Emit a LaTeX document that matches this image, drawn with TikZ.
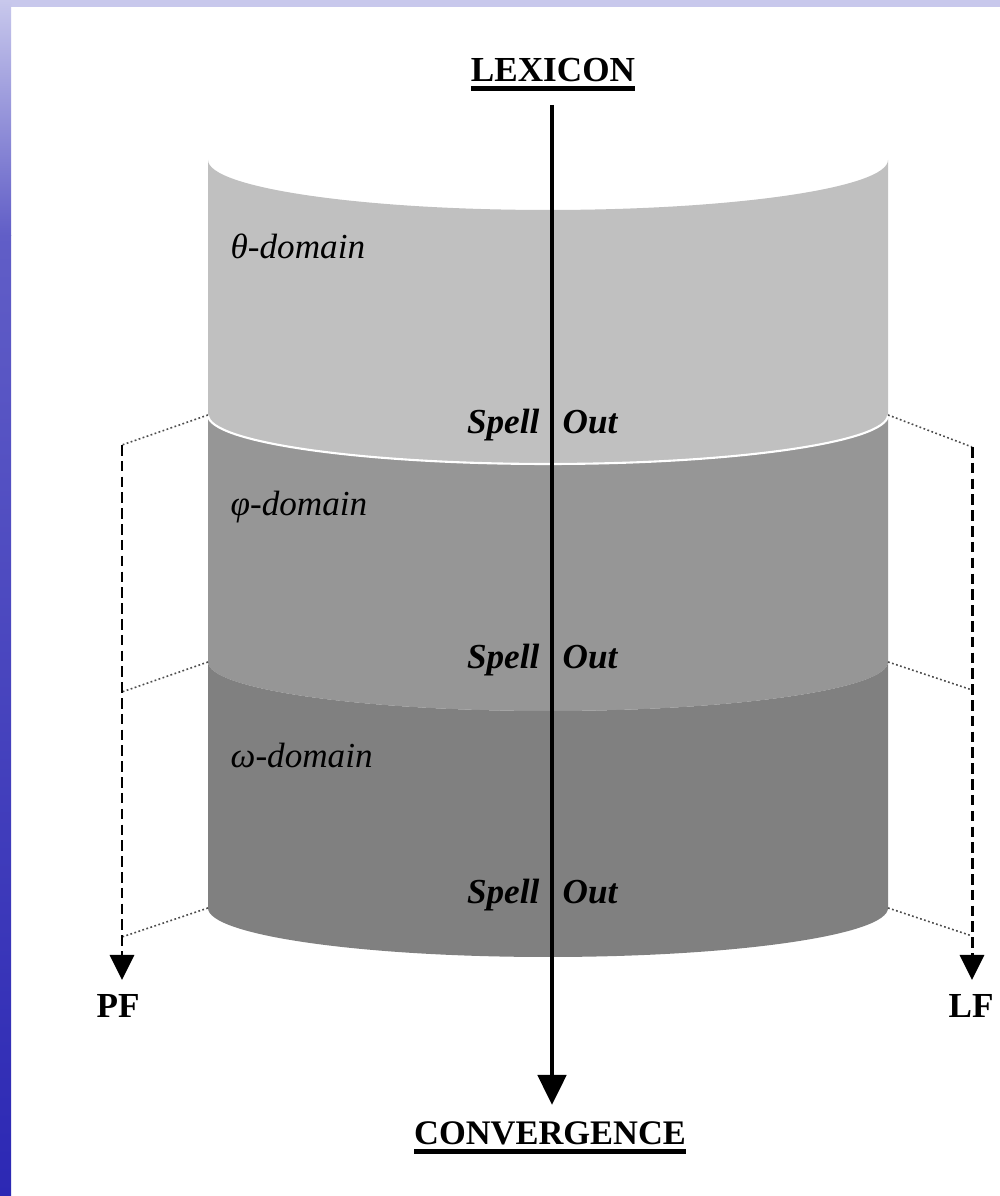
\documentclass[tikz,border=0pt]{standalone}
\usepackage{fontspec}
\setmainfont{Liberation Serif}
\usepackage{xcolor}
\usetikzlibrary{arrows.meta}
\definecolor{bandlight}{RGB}{192,192,192}
\definecolor{bandmid}{RGB}{150,150,150}
\definecolor{banddark}{RGB}{128,128,128}
\definecolor{slidelav}{RGB}{200,200,236}
\definecolor{slideblue}{RGB}{44,40,180}
\newcommand{\thickul}[1]{\vtop{\hbox{#1}\kern1.1pt\hrule height 1.4pt}}

\begin{document}
\begin{tikzpicture}[
  domlabel/.style={font=\fontsize{10}{12}\selectfont\itshape, anchor=base west, inner sep=0pt},
  spell/.style={font=\fontsize{10}{12}\selectfont\bfseries\itshape, inner sep=0pt},
  endlabel/.style={font=\fontsize{10}{12}\selectfont\bfseries, anchor=base, inner sep=0pt},
  tie/.style={gray!60!black, line width=0.45pt, dash pattern=on 0.5pt off 0.7pt},
  route/.style={line width=0.85pt, dash pattern=on 3pt off 1.5pt, -{Triangle[length=0.25cm,width=0.24cm]}}
]
  \useasboundingbox (0,0) rectangle (10,11.96);

  % slide background
  \fill[white] (0,0) rectangle (10,11.96);
  \fill[slidelav] (0,11.89) rectangle (10,11.96);
  \shade[top color=slidelav, bottom color=slideblue!75!white] (0,9.6) rectangle (0.11,11.96);
  \shade[top color=slideblue!75!white, bottom color=slideblue] (0,0) rectangle (0.11,9.6);

  % cylinder bands
  \fill[bandlight] (2.08,10.36) arc[start angle=180, end angle=360, x radius=3.4cm, y radius=0.5cm]
    -- (8.88,7.81) arc[start angle=0, end angle=-180, x radius=3.4cm, y radius=0.49cm] -- cycle;
  \fill[bandmid] (2.08,7.81) arc[start angle=180, end angle=360, x radius=3.4cm, y radius=0.49cm]
    -- (8.88,5.34) arc[start angle=0, end angle=-180, x radius=3.4cm, y radius=0.49cm] -- cycle;
  \fill[banddark] (2.08,5.34) arc[start angle=180, end angle=360, x radius=3.4cm, y radius=0.49cm]
    -- (8.88,2.88) arc[start angle=0, end angle=-180, x radius=3.4cm, y radius=0.49cm] -- cycle;
  \draw[white, line width=0.6pt] (2.08,7.81) arc[start angle=180, end angle=360, x radius=3.4cm, y radius=0.49cm];

  % band corners and feet of the side routes
  \coordinate (cl1) at (2.08,7.81);
  \coordinate (cl2) at (2.08,5.34);
  \coordinate (cl3) at (2.08,2.88);
  \coordinate (cr1) at (8.88,7.81);
  \coordinate (cr2) at (8.88,5.34);
  \coordinate (cr3) at (8.88,2.88);
  \coordinate (pl1) at (1.22,7.51);
  \coordinate (pl2) at (1.22,5.04);
  \coordinate (pl3) at (1.22,2.59);
  \coordinate (pr1) at (9.72,7.49);
  \coordinate (pr2) at (9.72,5.06);
  \coordinate (pr3) at (9.72,2.60);
  \coordinate (pfend) at (1.22,2.16);
  \coordinate (lfend) at (9.72,2.16);

  % dotted ties to the interfaces
  \foreach \i in {1,2,3} {
    \draw[tie] (cl\i) -- (pl\i);
    \draw[tie] (cr\i) -- (pr\i);
  }

  % PF and LF routes
  \node[endlabel] (pf) at (1.18,1.78) {PF};
  \node[endlabel] (lf) at (9.71,1.78) {LF};
  \draw[route] (pl1) -- (pfend);
  \draw[route] (pr1) -- (lfend);

  % domains
  \node[domlabel] (theta) at (2.30,9.37) {θ-domain};
  \node[domlabel] (phi) at (2.30,6.80) {φ-domain};
  \node[domlabel] (omega) at (2.30,4.28) {ω-domain};

  % spell out points
  \foreach \n/\y in {1/7.62, 2/5.27, 3/2.92} {
    \node[spell, anchor=base east] (spell\n) at (5.40,\y) {Spell};
    \node[spell, anchor=base west] (out\n) at (5.62,\y) {Out};
  }

  % derivation
  \node[endlabel] (lexicon) at (5.53,11.14) {\thickul{LEXICON}};
  \node[endlabel, font=\fontsize{9.8}{12}\selectfont\bfseries] (converge) at (5.50,0.51) {\thickul{CONVERGENCE}};
  \coordinate (lexfoot) at (5.52,10.91);
  \coordinate (convhead) at (5.52,0.91);
  \draw[line width=1.4pt, -{Triangle[length=0.3cm,width=0.28cm]}] (lexfoot) -- (convhead);
\end{tikzpicture}
\end{document}
